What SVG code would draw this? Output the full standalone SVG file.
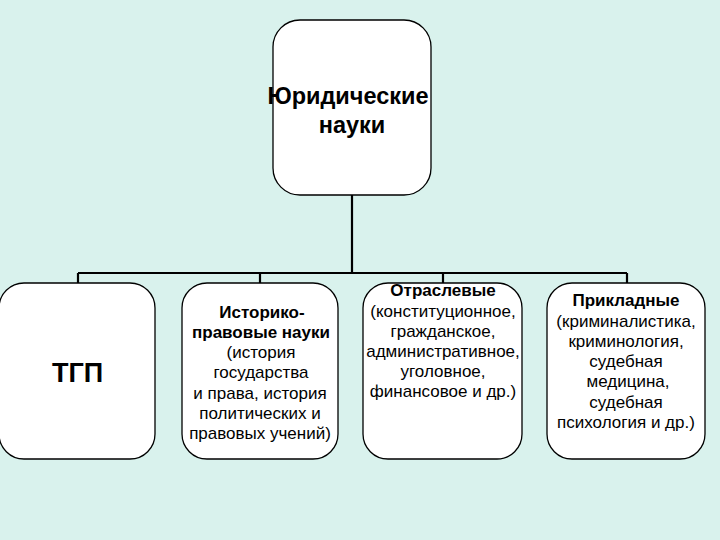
<svg xmlns="http://www.w3.org/2000/svg" width="720" height="540" viewBox="0 0 720 540">
<style>
.box{fill:#ffffff;stroke:#000000;stroke-width:1.3}
.con{fill:none;stroke:#000000;stroke-width:2.2}
text{font-family:"Liberation Sans",Arial,sans-serif;fill:#000000;text-anchor:middle}
.b{font-weight:bold}
.t{font-size:17px}
</style>
<rect x="0" y="0" width="720" height="540" fill="#d9f2ed"/>
<g id="connectors">
<path class="con" d="M352 195 V273 M78 273 H627 M78 273 V283 M260 273 V283 M443 273 V283 M627 273 V283"/>
</g>
<g id="root">
<rect class="box" x="273" y="20" width="158" height="175" rx="27" ry="27"/>
<text class="b" x="348" y="104" font-size="23.5">Юридические</text>
<text class="b" x="352" y="133" font-size="23.5">науки</text>
</g>
<g id="tgp">
<rect class="box" x="-1" y="283" width="156" height="176" rx="25" ry="25"/>
<text class="b" x="77.5" y="382" font-size="27">ТГП</text>
</g>
<g id="history">
<rect class="box" x="182" y="283" width="156" height="176" rx="25" ry="25"/>
<text class="t" x="262"><tspan class="b" x="262" y="318">Историко-</tspan><tspan class="b" x="261" y="338">правовые науки</tspan><tspan x="261" y="358">(история</tspan><tspan x="261" y="378">государства</tspan><tspan x="260" y="399">и права, история</tspan><tspan x="260" y="419">политических и</tspan><tspan x="260" y="439">правовых учений)</tspan></text>
</g>
<g id="branch">
<rect class="box" x="363" y="283" width="159" height="176" rx="25" ry="25"/>
<text class="t" x="443"><tspan class="b" x="443" y="296">Отраслевые</tspan><tspan x="443" y="317">(конституционное,</tspan><tspan x="443" y="337">гражданское,</tspan><tspan x="443" y="357">административное,</tspan><tspan x="443" y="377">уголовное,</tspan><tspan x="443" y="397">финансовое и др.)</tspan></text>
</g>
<g id="applied">
<rect class="box" x="547" y="283" width="158" height="176" rx="25" ry="25"/>
<text class="t" x="626"><tspan class="b" x="626" y="306">Прикладные</tspan><tspan x="626" y="327">(криминалистика,</tspan><tspan x="626" y="347">криминология,</tspan><tspan x="626" y="367">судебная</tspan><tspan x="628" y="387">медицина,</tspan><tspan x="626" y="408">судебная</tspan><tspan x="626" y="428">психология и др.)</tspan></text>
</g>
</svg>
